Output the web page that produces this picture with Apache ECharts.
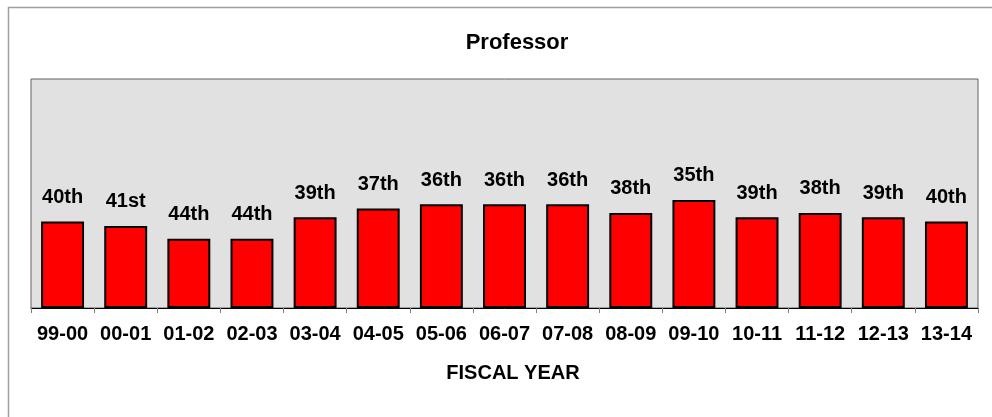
<!DOCTYPE html>
<html>
<head>
<meta charset="utf-8">
<script src="https://cdn.jsdelivr.net/npm/echarts@6/dist/echarts.min.js"></script>
<style>
html,body{margin:0;padding:0;background:#fff;}
#c{width:992px;height:417px;}
</style>
</head>
<body>
<div id="c"></div>
<script>
const categories = ['99-00','00-01','01-02','02-03','03-04','04-05','05-06','06-07','07-08','08-09','09-10','10-11','11-12','12-13','13-14'];
const barValues = [20,19,16,16,21,23,24,24,24,22,25,21,22,21,20];
const rankLabels = ['40th','41st','44th','44th','39th','37th','36th','36th','36th','38th','35th','39th','38th','39th','40th'];
const titleText = 'Professor';
const xAxisName = 'FISCAL YEAR';

const chart = echarts.init(document.getElementById('c'));
const font = 'Liberation Sans, Arial, sans-serif';
chart.setOption({
  animation: false,
  backgroundColor: '#fff',
  graphic: [{
    type: 'rect', left: 6, top: 5,
    shape: {width: 1000, height: 430},
    style: {fill: 'none', stroke: '#a0a0a0', lineWidth: 1.5},
    silent: true
  }],
  title: {
    text: titleText, left: 512, top: 27, textAlign: 'center',
    textStyle: {fontFamily: font, fontWeight: 'bold', fontSize: 22, color: '#000'}
  },
  grid: {left: 31, right: 14, top: 79, bottom: 109, show: true, backgroundColor: '#e1e1e1', borderColor: '#606060', borderWidth: 1},
  xAxis: {
    type: 'category', data: categories,
    name: xAxisName, nameLocation: 'middle', nameGap: 55,
    nameTextStyle: {fontFamily: font, fontWeight: 'bold', fontSize: 20, color: '#000', padding: [0,0,0,17]},
    axisLine: {lineStyle: {color: '#000', width: 1}},
    axisTick: {show: true, alignWithLabel: false, length: 5, lineStyle: {color: '#808080'}},
    axisLabel: {fontFamily: font, fontWeight: 'bold', fontSize: 20, color: '#000', margin: 16, interval: 0}
  },
  yAxis: {
    type: 'value', min: 0, max: 53,
    show: false, splitLine: {show: false}
  },
  series: [{
    type: 'bar', data: barValues, barWidth: '68%',
    itemStyle: {color: '#ff0000', borderColor: '#000', borderWidth: 2},
    label: {
      show: true, position: 'top', distance: 14,
      formatter: p => rankLabels[p.dataIndex],
      fontFamily: font, fontWeight: 'bold', fontSize: 20, color: '#000'
    }
  }]
});
</script>
</body>
</html>
